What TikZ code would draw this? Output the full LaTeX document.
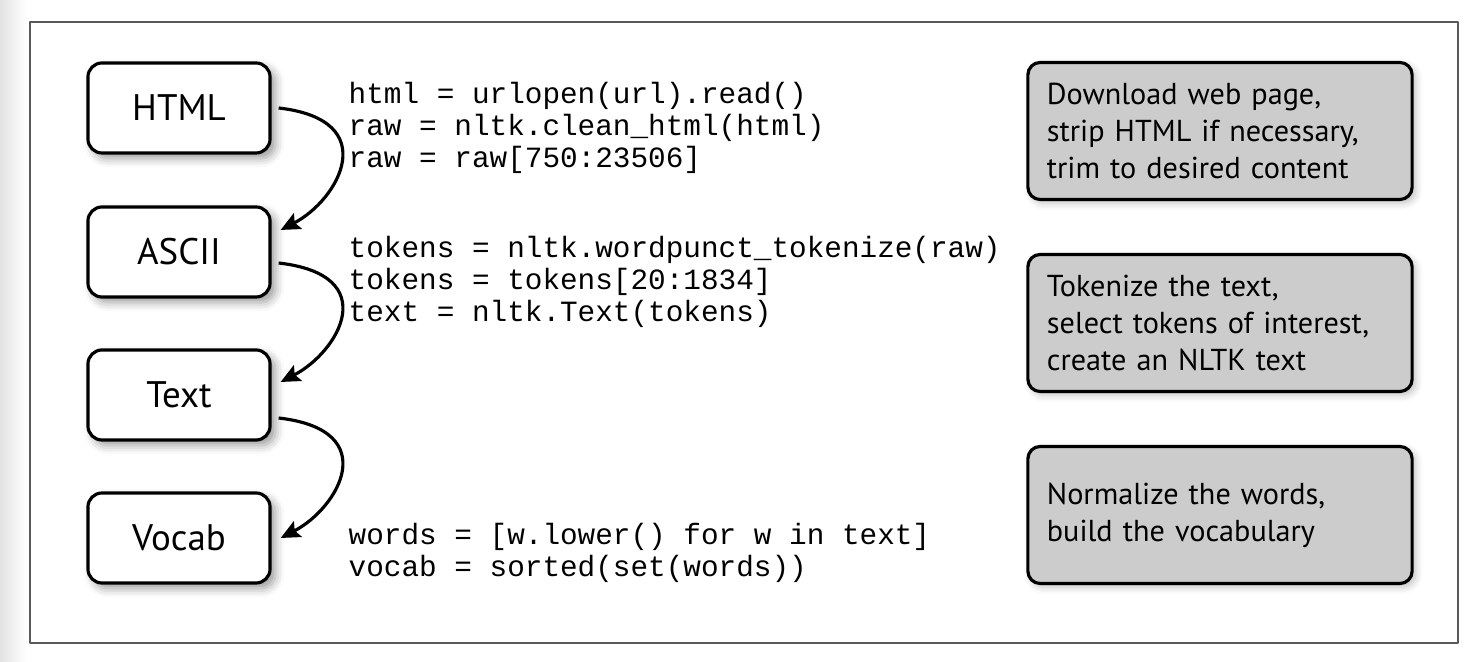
\documentclass[tikz,border=0pt]{standalone}
\usepackage{fontspec}
\setmainfont{PT Sans}
\setmonofont{Liberation Mono}
\usetikzlibrary{arrows.meta,shadows.blur}
\tikzset{
	stage/.style={draw, line width=0.9pt, rounded corners=4pt, fill=white,
		minimum width=1.82cm, minimum height=0.9cm, inner sep=0pt,
		font=\fontsize{10.5}{12}\selectfont,
		blur shadow={shadow xshift=1.5pt, shadow yshift=-1.5pt, shadow blur radius=2.5pt, shadow opacity=40}},
	code/.style={anchor=west, align=left, inner sep=0pt, font=\fontsize{8.35}{9}\ttfamily},
	note/.style={draw, line width=0.9pt, rounded corners=3.5pt, fill=gray!40,
		minimum width=3.84cm, minimum height=1.37cm, inner xsep=0.19cm,
		text width=3.46cm, align=left, font=\fontsize{8.6}{10.6}\selectfont,
		blur shadow={shadow xshift=1pt, shadow yshift=-1pt, shadow blur radius=2pt, shadow opacity=25}},
	flow/.style={-{Stealth[length=5.5pt,width=5pt,inset=1pt]}, line width=0.9pt}
}
\begin{document}
\begin{tikzpicture}[x=0.01cm, y=-0.01cm, line join=round]
	\useasboundingbox (0,0) rectangle (1482,662);
	\shade[left color=gray!22, right color=white] (0,0) rectangle (27,662);
	\draw[line width=0.5pt, gray!70!black] (30,22) rectangle (1458,643);
	% stages on the left
	\node[stage] (html) at (179,108) {HTML};
	\node[stage] (ascii) at (179,252) {ASCII};
	\node[stage] (text) at (179,395) {Text};
	\node[stage] (vocab) at (179,538) {Vocab};
	% python code
	\node[code] (code1) at (348,128) {html = urlopen(url).read()\\raw = nltk.clean\_html(html)\\raw = raw[750:23506]};
	\node[code] (code2) at (348,282) {tokens = nltk.wordpunct\_tokenize(raw)\\tokens = tokens[20:1834]\\text = nltk.Text(tokens)};
	\node[code] (code3) at (348,553) {words = [w.lower() for w in text]\\vocab = sorted(set(words))};
	% what each step does
	\node[note] (note1) at (1220,131) {Download web page,\\strip HTML if necessary,\\trim to desired content};
	\node[note] (note2) at (1220,323) {Tokenize the text,\\select tokens of interest,\\create an NLTK text};
	\node[note] (note3) at (1220,515) {Normalize the words,\\build the vocabulary};
	% arrows
	\draw[flow] ([xshift=0.07cm]html.east) .. controls +(105,12) and +(58,-30) .. ([xshift=0.09cm,yshift=0.22cm]ascii.east);
	\draw[flow] ([xshift=0.07cm,yshift=-0.11cm]ascii.east) .. controls +(105,12) and +(58,-30) .. ([xshift=0.09cm,yshift=0.13cm]text.east);
	\draw[flow] ([xshift=0.07cm,yshift=-0.23cm]text.east) .. controls +(105,12) and +(58,-30) .. ([xshift=0.09cm]vocab.east);
\end{tikzpicture}
\end{document}
